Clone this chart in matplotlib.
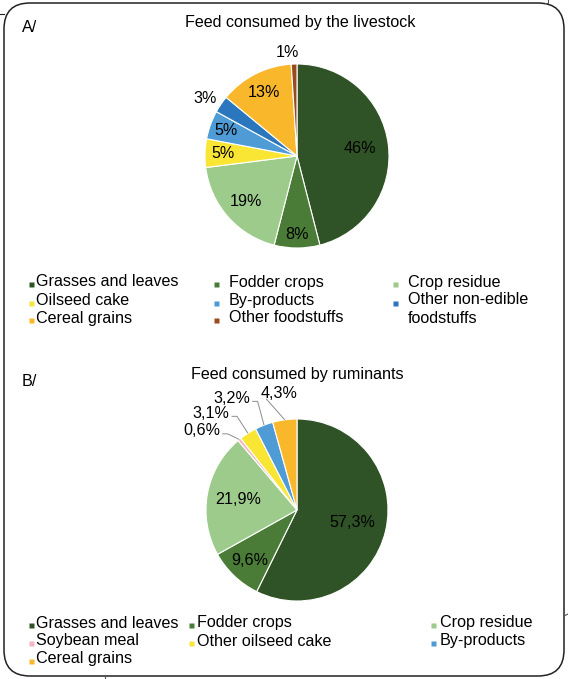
"""Two pie charts: feed consumed by livestock and by ruminants."""

import numpy as np
import matplotlib.pyplot as plt
from matplotlib.patches import FancyBboxPatch

plt.rcParams["font.family"] = ["Liberation Sans", "DejaVu Sans"]

# --- data -------------------------------------------------------------------
labels_a = ["Grasses and leaves", "Fodder crops", "Crop residue", "Oilseed cake",
            "By-products", "Other non-edible\nfoodstuffs", "Cereal grains",
            "Other foodstuffs"]
values_a = [46, 8, 19, 5, 5, 3, 13, 1]
pct_text_a = ["46%", "8%", "19%", "5%", "5%", "3%", "13%", "1%"]
colors_a = ["#2f5326", "#4a7c37", "#9ccb8b", "#f9e634", "#4e9bd6", "#2a77bd",
            "#f9b82b", "#9a4a1c"]

labels_b = ["Grasses and leaves", "Fodder crops", "Crop residue", "Soybean meal",
            "Other oilseed cake", "By-products", "Cereal grains"]
values_b = [57.3, 9.6, 21.9, 0.6, 3.1, 3.2, 4.3]
pct_text_b = ["57,3%", "9,6%", "21,9%", "0,6%", "3,1%", "3,2%", "4,3%"]
colors_b = ["#2f5326", "#4a7c37", "#9ccb8b", "#f4b6c0", "#f9e634", "#4e9bd6",
            "#f9b82b"]

# --- style ------------------------------------------------------------------
W, H = 568, 679
FS = 11.6
# label radius (in pie radii) and angle nudge (deg), per slice
label_r_a = [0.69, 0.85, 0.74, 0.80, 0.82, 1.18, 0.78, 1.125]
label_nudge_a = [0, 0, 0, 0, 0, 2.4, 0, 3.7]
label_r_b = [0.62, 0.76, 0.66, 1.36, 1.42, 1.42, 1.30]
label_nudge_b = [0, 0, 0, 11, 9, 9, 1]
outside_b = [False, False, False, True, True, True, True]

fig = plt.figure(figsize=(W / 100, H / 100), dpi=100)


def pie_axes(cx, cy, r):
    half = 1.5 * r
    return fig.add_axes([(cx - half) / W, (H - cy - half) / H, 2 * half / W, 2 * half / H])


def draw_pie(ax, values, colors, texts, radii, nudge, outside=None):
    ax.pie(values, colors=colors, startangle=90, counterclock=False,
           wedgeprops=dict(edgecolor="white", linewidth=0.8))
    ax.set_xlim(-1.5, 1.5)
    ax.set_ylim(-1.5, 1.5)
    ax.set_aspect("equal")
    ax.axis("off")
    total = float(sum(values))
    start = 90.0
    leaders = []
    for i, v in enumerate(values):
        span = 360.0 * v / total
        mid = start - span / 2
        start -= span
        ang = mid + nudge[i]
        tx = radii[i] * np.cos(np.radians(ang))
        ty = radii[i] * np.sin(np.radians(ang))
        t = ax.text(tx, ty, texts[i], ha="center", va="center", fontsize=FS)
        if outside and outside[i]:
            leaders.append((t, mid))
    if leaders:
        fig.canvas.draw()
        inv = ax.transData.inverted()
        for t, mid in leaders:
            bb = t.get_window_extent()
            (x0, y0), (x1, y1) = inv.transform([[bb.x0, bb.y0], [bb.x1, bb.y1]])
            ex, ey = np.cos(np.radians(mid)), np.sin(np.radians(mid))
            if ex < -0.3:
                # short horizontal from the right side, then down to the wedge
                sy = y0 + 0.3 * (y1 - y0)
                pts = [(x1 + 0.02, sy), (x1 + 0.08, sy), (ex, ey)]
            else:
                pts = [(x0 + 0.15 * (x1 - x0), y0 + 0.02), (ex, ey)]
            xs, ys = zip(*pts)
            ax.plot(xs, ys, color="#8c8c8c", lw=0.7, solid_capstyle="butt")


ax_a = pie_axes(297, 156, 92)
draw_pie(ax_a, values_a, colors_a, pct_text_a, label_r_a, label_nudge_a)

ax_b = pie_axes(297, 510, 91)
draw_pie(ax_b, values_b, colors_b, pct_text_b, label_r_b, label_nudge_b, outside_b)

# overlay in pixel coordinates for frame, titles and legends
ov = fig.add_axes([0, 0, 1, 1], zorder=-1)
ov.set_xlim(0, W)
ov.set_ylim(H, 0)
ov.axis("off")

frame = FancyBboxPatch((4, 3), 560, 673, boxstyle="round,pad=0,rounding_size=26",
                       facecolor="none", edgecolor="#222222", lw=1.1)
ov.add_patch(frame)
ov.plot([0, 4], [14, 14], color="#222222", lw=0.8)
ov.plot([545, 548, 548], [3, 3, 0], color="#555555", lw=0.8)
ov.plot([564, 568], [616, 614], color="#555555", lw=0.8)
ov.plot([105, 105], [676, 679], color="#555555", lw=0.8)

ov.text(22, 28, "A/", fontsize=FS, va="center")
ov.text(300, 22, "Feed consumed by the livestock", fontsize=FS, ha="center", va="center")
ov.text(22, 381, "B/", fontsize=FS, va="center")
ov.text(297, 374, "Feed consumed by ruminants", fontsize=FS, ha="center", va="center")


def legend(labels, colors, cols_x, marker_dx, rows_y):
    for i, (lab, col) in enumerate(zip(labels, colors)):
        c = i % 3
        x = cols_x[c]
        y = rows_y[i // 3]
        ov.plot([x + marker_dx[c]], [y + 2], marker="s", ms=3.6, color=col, mec="none")
        if "\n" in lab:
            ov.text(x, y - 8.5, lab, fontsize=FS, va="top", ha="left", linespacing=1.3)
        else:
            ov.text(x, y, lab, fontsize=FS, va="center", ha="left")


legend(labels_a, colors_a, [36, 229, 408], [-5, -13, -13], [282, 300.5, 318])
legend(labels_b, colors_b, [36, 197, 440], [-5, -6, -7], [623, 641, 659])

fig.savefig("out.png", dpi=100)
